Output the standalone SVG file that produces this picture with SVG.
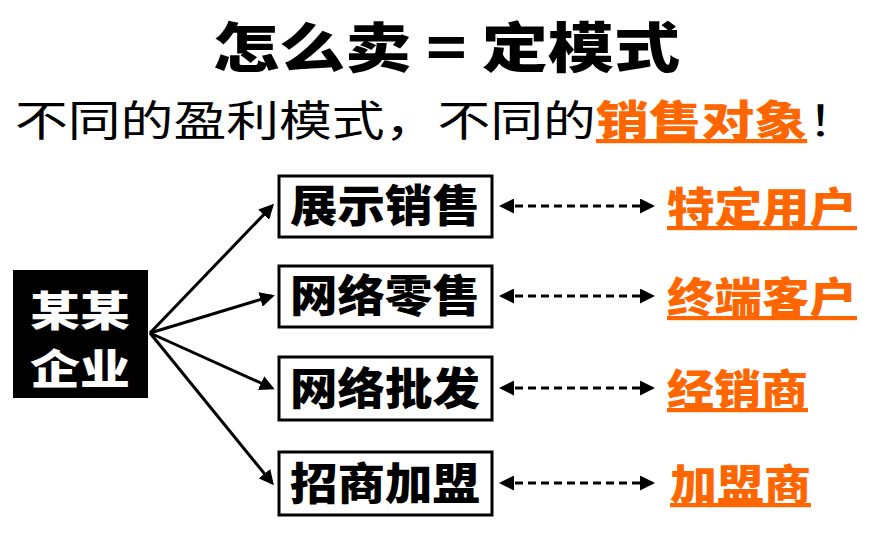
<svg xmlns="http://www.w3.org/2000/svg" width="878" height="540" viewBox="0 0 878 540">
<defs>
<style>
.t{font-family:"Noto Sans CJK SC",sans-serif;font-weight:900}
.b{fill:#fff;stroke:#000;stroke-width:3}
.bt{font-family:"Noto Sans CJK SC",sans-serif;font-weight:900;font-size:44px}
.o{font-family:"Noto Sans CJK SC",sans-serif;font-weight:900;font-size:42px;fill:#FF6600;text-decoration:underline}
.a{stroke:#000;stroke-width:3;fill:none;marker-end:url(#ah)}
.d{stroke:#000;stroke-width:3;fill:none;stroke-dasharray:8 5;marker-end:url(#ah);marker-start:url(#as)}
</style>
<marker id="ah" markerWidth="5" markerHeight="5" refX="4" refY="2.5" orient="auto" markerUnits="strokeWidth"><path d="M0,0L5,2.5L0,5z"/></marker>
<marker id="as" markerWidth="5" markerHeight="5" refX="1" refY="2.5" orient="auto" markerUnits="strokeWidth"><path d="M5,0L0,2.5L5,5z"/></marker>
</defs>
<text class="t" x="213" y="68" font-size="54" textLength="467" lengthAdjust="spacingAndGlyphs">怎么卖 = 定模式</text>
<text x="15" y="136" font-family="Noto Sans CJK SC,sans-serif" font-size="42" textLength="845" lengthAdjust="spacingAndGlyphs">不同的盈利模式，不同的<tspan fill="#FF6600" font-weight="900" text-decoration="underline">销售对象</tspan>！</text>
<g id="qiye"><rect x="13" y="270" width="135" height="128" fill="#000"/><text class="t" font-size="41" fill="#fff"><tspan x="30" y="326" textLength="100" lengthAdjust="spacingAndGlyphs">某某</tspan><tspan x="30" y="384" textLength="100" lengthAdjust="spacingAndGlyphs">企业</tspan></text></g>
<g id="n1"><rect class="b" x="279" y="176" width="213" height="61"/><text class="bt" x="290" y="222" textLength="190" lengthAdjust="spacingAndGlyphs">展示销售</text></g>
<g id="n2"><rect class="b" x="279" y="266" width="213" height="61"/><text class="bt" x="290" y="312" textLength="190" lengthAdjust="spacingAndGlyphs">网络零售</text></g>
<g id="n3"><rect class="b" x="279" y="357" width="213" height="63"/><text class="bt" x="290" y="405" textLength="190" lengthAdjust="spacingAndGlyphs">网络批发</text></g>
<g id="n4"><rect class="b" x="279" y="452" width="213" height="63"/><text class="bt" x="290" y="500" textLength="190" lengthAdjust="spacingAndGlyphs">招商加盟</text></g>
<g id="o1"><text class="o" x="667" y="223" textLength="190" lengthAdjust="spacingAndGlyphs">特定用户</text></g>
<g id="o2"><text class="o" x="667" y="313" textLength="190" lengthAdjust="spacingAndGlyphs">终端客户</text></g>
<g id="o3"><text class="o" x="667" y="405" textLength="141" lengthAdjust="spacingAndGlyphs">经销商</text></g>
<g id="o4"><text class="o" x="670" y="500" textLength="141" lengthAdjust="spacingAndGlyphs">加盟商</text></g>
<g id="connectors">
<path class="a" d="M150,333L272,206"/>
<path class="a" d="M150,333L272,296"/>
<path class="a" d="M150,333L272,388"/>
<path class="a" d="M150,333L272,483"/>
<path class="d" d="M502,206L652,206"/>
<path class="d" d="M502,296L652,296"/>
<path class="d" d="M502,388L652,388"/>
<path class="d" d="M502,483L652,483"/>
</g>
</svg>
